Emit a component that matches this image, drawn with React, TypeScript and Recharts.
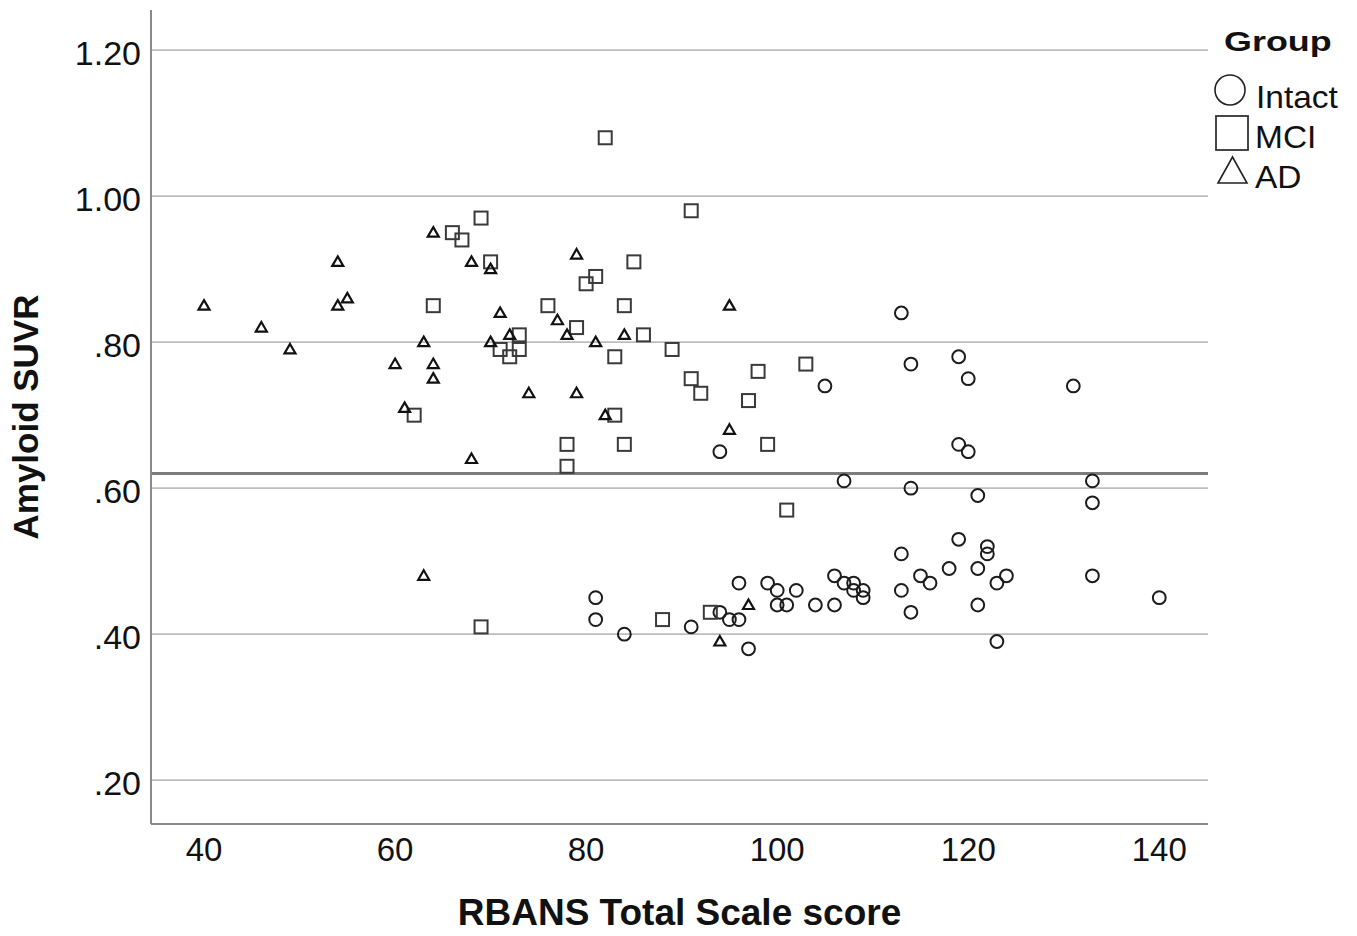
import React from 'react';
import { ScatterChart, Scatter, XAxis, YAxis, ReferenceLine, Legend } from 'recharts';

const FONT = '"Liberation Sans", Arial, Helvetica, sans-serif';

// Tick values
const xTicks = [40, 60, 80, 100, 120, 140];
const yTicks = [0.2, 0.4, 0.6, 0.8, 1.0, 1.2];
const xDomain = [34.45, 145.1];
const yDomain = [0.14, 1.255];
const cutoff = 0.62;

const groupNames = ['Intact', 'MCI', 'AD'];

// [RBANS Total Scale score, Amyloid SUVR]
const intactData: [number, number][] = [
  [105, 0.74], [94, 0.65], [113, 0.84], [114, 0.77], [119, 0.78], [120, 0.75], [131, 0.74],
  [119, 0.66], [120, 0.65], [114, 0.60], [121, 0.59], [133, 0.61], [133, 0.58], [107, 0.61],
  [119, 0.53], [122, 0.52], [122, 0.51], [113, 0.51], [118, 0.49], [121, 0.49], [115, 0.48],
  [116, 0.47], [124, 0.48], [123, 0.47], [133, 0.48], [140, 0.45], [113, 0.46], [114, 0.43],
  [121, 0.44], [123, 0.39], [99, 0.47], [100, 0.46], [102, 0.46], [100, 0.44], [101, 0.44],
  [104, 0.44], [106, 0.44], [106, 0.48], [107, 0.47], [108, 0.47], [108, 0.46], [109, 0.46],
  [109, 0.45], [81, 0.45], [81, 0.42], [84, 0.40], [91, 0.41], [94, 0.43], [95, 0.42],
  [96, 0.42], [96, 0.47], [97, 0.38],
];

const mciData: [number, number][] = [
  [82, 1.08], [69, 0.97], [66, 0.95], [67, 0.94], [70, 0.91], [85, 0.91], [81, 0.89],
  [80, 0.88], [76, 0.85], [84, 0.85], [64, 0.85], [79, 0.82], [86, 0.81], [73, 0.81],
  [89, 0.79], [73, 0.79], [71, 0.79], [72, 0.78], [83, 0.78], [78, 0.66], [84, 0.66],
  [78, 0.63], [83, 0.70], [62, 0.70], [91, 0.98], [91, 0.75], [92, 0.73], [98, 0.76],
  [103, 0.77], [97, 0.72], [99, 0.66], [101, 0.57], [69, 0.41], [88, 0.42], [93, 0.43],
];

const adData: [number, number][] = [
  [40, 0.85], [46, 0.82], [49, 0.79], [54, 0.91], [54, 0.85], [55, 0.86], [60, 0.77],
  [61, 0.71], [63, 0.80], [64, 0.95], [64, 0.77], [64, 0.75], [63, 0.48], [68, 0.91],
  [68, 0.64], [70, 0.90], [70, 0.80], [71, 0.84], [72, 0.81], [74, 0.73], [77, 0.83],
  [78, 0.81], [79, 0.92], [79, 0.73], [81, 0.80], [82, 0.70], [84, 0.81], [95, 0.85],
  [95, 0.68], [97, 0.44], [94, 0.39],
];

const toPoints = (arr: [number, number][]) => arr.map(([x, y]) => ({ x, y }));

const formatY = (v: number) => {
  const s = v.toFixed(2);
  return s.startsWith('0') ? s.slice(1) : s;
};

const CircleMark = (p: any) => (
  <circle cx={p.cx} cy={p.cy} r={6.4} fill="none" stroke="#1c1c1c" strokeWidth={2} />
);
const SquareMark = (p: any) => (
  <rect x={p.cx - 6.5} y={p.cy - 6.5} width={13} height={13} fill="none" stroke="#3a3a3a" strokeWidth={2} />
);
const TriangleMark = (p: any) => (
  <path
    d={`M${p.cx},${p.cy - 5.5} L${p.cx + 5.5},${p.cy + 4} L${p.cx - 5.5},${p.cy + 4} Z`}
    fill="none"
    stroke="#111"
    strokeWidth={2.2}
  />
);

const YTitle = (props: any) => {
  const vb = props.viewBox || { x: 0, y: 10, width: 151, height: 814 };
  const cx = vb.x + 38;
  const cy = vb.y + vb.height / 2;
  return (
    <text
      x={cx}
      y={cy}
      transform={`rotate(-90 ${cx} ${cy})`}
      textAnchor="middle"
      fontFamily={FONT}
      fontWeight={700}
      fontSize={35}
      fill="#111"
    >
      Amyloid SUVR
    </text>
  );
};

const LegendBox = () => (
  <svg width={157} height={200} style={{ display: 'block', overflow: 'visible' }}>
    <text transform="translate(24,41) scale(1.33,1)" fontFamily={FONT} fontWeight={700} fontSize={27} fill="#111">
      Group
    </text>
    <circle cx={30} cy={80} r={15} fill="none" stroke="#222" strokeWidth={1.6} />
    <text transform="translate(56,98) scale(1.08,1)" fontFamily={FONT} fontSize={31} fill="#111">
      {groupNames[0]}
    </text>
    <rect x={16} y={106} width={32} height={34} fill="none" stroke="#333" strokeWidth={1.8} />
    <text transform="translate(55,138) scale(1.08,1)" fontFamily={FONT} fontSize={31} fill="#111">
      {groupNames[1]}
    </text>
    <path d="M32.5,147 L47,173 L18,173 Z" fill="none" stroke="#222" strokeWidth={1.6} />
    <text transform="translate(55,178) scale(1.08,1)" fontFamily={FONT} fontSize={31} fill="#111">
      {groupNames[2]}
    </text>
  </svg>
);

export default function App() {
  return (
    <div style={{ position: 'absolute', left: 0, top: 0, background: '#fff' }}>
      <ScatterChart
        width={1357}
        height={936}
        margin={{ top: 10, right: 149, left: 0, bottom: 0 }}
      >
        <XAxis
          type="number"
          dataKey="x"
          domain={xDomain}
          allowDataOverflow
          ticks={xTicks}
          height={112}
          tickSize={0}
          tickMargin={14}
          tickLine={false}
          axisLine={{ stroke: '#8a8a8a', strokeWidth: 2 }}
          tick={{ fontFamily: FONT, fontSize: 33, fill: '#111' }}
          label={{
            value: 'RBANS Total Scale score',
            position: 'insideBottom',
            offset: 11,
            style: { fontFamily: FONT, fontWeight: 700, fontSize: 37, fill: '#111' },
          }}
        />
        <YAxis
          type="number"
          dataKey="y"
          domain={yDomain}
          allowDataOverflow
          ticks={yTicks}
          width={151}
          tickSize={0}
          tickMargin={10}
          tickLine={false}
          tickFormatter={formatY}
          axisLine={{ stroke: '#8a8a8a', strokeWidth: 2 }}
          tick={{ fontFamily: FONT, fontSize: 34, fill: '#111', dy: 3 }}
          label={<YTitle />}
        />
        {yTicks.map((t) => (
          <ReferenceLine key={t} y={t} stroke="#bdbdbd" strokeWidth={1.8} />
        ))}
        <ReferenceLine y={cutoff} stroke="#7c7c7c" strokeWidth={3} />
        <Scatter name={groupNames[0]} data={toPoints(intactData)} shape={CircleMark} isAnimationActive={false} />
        <Scatter name={groupNames[1]} data={toPoints(mciData)} shape={SquareMark} isAnimationActive={false} />
        <Scatter name={groupNames[2]} data={toPoints(adData)} shape={TriangleMark} isAnimationActive={false} />
        <Legend
          layout="vertical"
          align="center"
          verticalAlign="middle"
          content={<LegendBox />}
          wrapperStyle={{ left: 1200, top: 10, width: 157, height: 200 }}
        />
      </ScatterChart>
    </div>
  );
}
